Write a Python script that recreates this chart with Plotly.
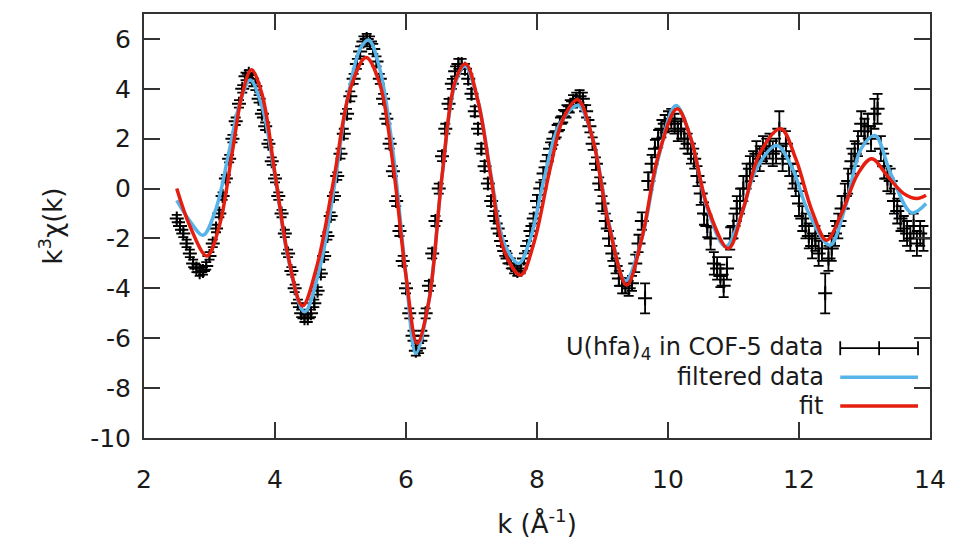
import plotly.graph_objects as go

# ---------------- data ----------------
k_start = 2.5
k_step = 0.05
data_y = [
    -1.2, -1.5, -1.8, -2.2, -2.6, -3.0, -3.2, -3.35, -3.3, -3.1,   # 2.50-2.95
    -2.7, -2.2, -1.6, -1.0, -0.3, 0.4, 1.2, 2.0, 2.7, 3.4,         # 3.00-3.45
    4.0, 4.5, 4.6, 4.4, 4.1, 3.6, 3.0, 2.5, 1.8, 1.1,              # 3.50-3.95
    0.4, -0.3, -1.0, -1.8, -2.6, -3.3, -4.0, -4.6, -5.0, -5.2,     # 4.00-4.45
    -5.2, -5.0, -4.6, -4.1, -3.4, -2.7, -1.9, -1.1, -0.3, 0.5,     # 4.50-4.95
    1.4, 2.2, 3.0, 3.7, 4.4, 5.0, 5.5, 5.9, 6.0, 5.9,              # 5.00-5.45
    5.6, 5.1, 4.4, 3.6, 2.8, 1.8, 0.7, -0.5, -1.7, -2.9,           # 5.50-5.95
    -4.0, -5.0, -5.9, -6.5, -6.4, -5.9, -5.0, -3.9, -2.6, -1.3,    # 6.00-6.45
    0.0, 1.3, 2.4, 3.4, 4.2, 4.7, 5.0, 5.0, 4.8, 4.4,              # 6.50-6.95
    3.8, 3.1, 2.4, 1.6, 0.9, 0.2, -0.5, -1.1, -1.6, -2.1,          # 7.00-7.45
    -2.5, -2.8, -3.0, -3.2, -3.3, -3.2, -2.8, -2.3, -1.7, -1.2,    # 7.50-7.95
    -0.5, 0.0, 0.6, 1.1, 1.6, 2.0, 2.3, 2.6, 2.9, 3.1,             # 8.00-8.45
    3.3, 3.5, 3.6, 3.7, 3.6, 3.1, 2.5, 1.8, 1.0, 0.2,              # 8.50-8.95
    -0.6, -1.3, -2.0, -2.6, -3.1, -3.6, -3.9, -3.9, -4.0, -3.8,    # 9.00-9.45
    -3.0, -2.2, -1.3, -4.4, 0.3, 1.0, 1.6, 2.0, 2.4, 2.6,          # 9.50-9.95
    2.7, 2.8, 2.6, 2.3, 2.4, 2.0, 1.8, 1.4, 1.2, 0.5,              # 10.00-10.45
    -0.2, -1.0, -1.5, -2.0, -3.0, -3.2, -3.5, -3.9, -3.2, -2.0,    # 10.50-10.95
    -1.5, -0.8, -0.5, 0.0, 0.5, 0.8, 1.0, 1.4, 1.2, 1.6,           # 11.00-11.45
    1.5, 1.7, 1.4, 1.5, 2.4, 1.2, 1.8, 1.0, 0.5, 0.2,              # 11.50-11.95
    -0.6, -1.2, -1.5, -1.9, -2.3, -2.0, -2.6, -2.4, -4.2, -2.8,    # 12.00-12.45
    -2.4, -1.8, -1.5, -0.8, -0.3, 0.3, 1.1, 1.4, 1.8, 2.6,         # 12.50-12.95
    2.3, 2.5, 2.0, 3.0, 3.2, 1.6, 0.9, 0.4, 0.3, -0.5,             # 13.00-13.45
    -0.9, -1.2, -1.6, -1.8, -2.0, -1.5, -2.2, -1.8, -2.0,          # 13.50-13.90
]
data_err = [
    0.15, 0.15, 0.15, 0.15, 0.15, 0.15, 0.15, 0.15, 0.15, 0.15,
    0.15, 0.15, 0.15, 0.15, 0.15, 0.15, 0.15, 0.15, 0.15, 0.15,
    0.15, 0.15, 0.15, 0.15, 0.15, 0.15, 0.15, 0.15, 0.15, 0.15,
    0.15, 0.15, 0.15, 0.15, 0.15, 0.15, 0.15, 0.15, 0.15, 0.15,
    0.15, 0.15, 0.15, 0.15, 0.15, 0.15, 0.15, 0.15, 0.15, 0.15,
    0.2, 0.2, 0.2, 0.2, 0.2, 0.2, 0.2, 0.2, 0.2, 0.2,
    0.2, 0.2, 0.2, 0.2, 0.2, 0.2, 0.2, 0.2, 0.2, 0.2,
    0.2, 0.2, 0.2, 0.2, 0.2, 0.2, 0.2, 0.2, 0.2, 0.2,
    0.2, 0.2, 0.2, 0.2, 0.2, 0.2, 0.2, 0.2, 0.2, 0.2,
    0.2, 0.2, 0.2, 0.2, 0.2, 0.2, 0.2, 0.2, 0.2, 0.2,
    0.2, 0.2, 0.2, 0.2, 0.2, 0.2, 0.2, 0.2, 0.2, 0.2,
    0.25, 0.25, 0.25, 0.25, 0.25, 0.25, 0.25, 0.25, 0.25, 0.25,
    0.25, 0.25, 0.25, 0.25, 0.25, 0.25, 0.25, 0.25, 0.25, 0.25,
    0.3, 0.3, 0.3, 0.3, 0.3, 0.3, 0.3, 0.3, 0.3, 0.3,
    0.35, 0.35, 0.35, 0.6, 0.35, 0.35, 0.35, 0.35, 0.35, 0.35,
    0.4, 0.4, 0.4, 0.4, 0.4, 0.4, 0.4, 0.4, 0.4, 0.4,
    0.45, 0.45, 0.45, 0.45, 0.45, 0.45, 0.45, 0.45, 0.45, 0.45,
    0.5, 0.5, 0.5, 0.5, 0.5, 0.5, 0.5, 0.5, 0.5, 0.5,
    0.5, 0.5, 0.5, 0.5, 0.7, 0.5, 0.5, 0.5, 0.5, 0.5,
    0.5, 0.5, 0.5, 0.5, 0.5, 0.5, 0.5, 0.5, 0.8, 0.5,
    0.5, 0.5, 0.5, 0.5, 0.5, 0.5, 0.5, 0.5, 0.5, 0.5,
    0.5, 0.5, 0.5, 0.6, 0.6, 0.5, 0.5, 0.5, 0.5, 0.5,
    0.5, 0.5, 0.5, 0.5, 0.5, 0.5, 0.5, 0.5, 0.5,
]
data_k = [round(k_start + i * k_step, 2) for i in range(len(data_y))]

filt_k = [2.5, 2.7, 2.9, 3.1, 3.3, 3.45, 3.62, 3.8, 4.0, 4.2, 4.45, 4.7, 4.9, 5.1,
          5.3, 5.43, 5.6, 5.8, 6.0, 6.15, 6.35, 6.55, 6.75, 6.9, 7.1, 7.3, 7.5,
          7.72, 7.9, 8.1, 8.35, 8.63, 8.85, 9.1, 9.35, 9.6, 9.85, 10.12, 10.35,
          10.6, 10.88, 11.1, 11.35, 11.66, 11.9, 12.15, 12.47, 12.7, 12.95,
          13.16, 13.4, 13.72, 13.94]
filt_y = [-0.47, -1.3, -1.87, -0.8, 1.5, 3.3, 4.35, 3.3, 0.5, -2.8, -4.94, -3.0,
          0.0, 3.5, 5.6, 5.96, 4.8, 1.5, -3.5, -6.6, -4.5, 0.5, 4.2, 4.9, 3.5, 0.5,
          -2.2, -3.0, -2.0, 0.3, 2.6, 3.33, 2.0, -1.4, -3.7, -2.0, 1.2, 3.33, 2.0,
          -0.8, -2.33, -1.2, 0.8, 1.73, 0.8, -1.0, -2.27, -0.8, 1.6, 2.13, 0.6,
          -0.97, -0.6]

fit_k = [2.5, 2.7, 2.96, 3.15, 3.35, 3.5, 3.64, 3.8, 4.0, 4.2, 4.42, 4.65, 4.9,
         5.15, 5.39, 5.6, 5.8, 6.0, 6.17, 6.35, 6.55, 6.75, 6.91, 7.1, 7.3, 7.5,
         7.75, 7.95, 8.2, 8.4, 8.62, 8.85, 9.1, 9.37, 9.6, 9.85, 10.14, 10.35,
         10.6, 10.92, 11.15, 11.4, 11.72, 11.95, 12.2, 12.42, 12.65, 12.9, 13.11,
         13.35, 13.6, 13.8, 13.94]
fit_y = [0.0, -1.5, -2.7, -1.5, 1.5, 3.8, 4.76, 3.8, 0.6, -2.7, -4.7, -3.0, 0.4,
         4.0, 5.26, 4.2, 1.0, -3.5, -6.2, -4.5, 0.5, 4.3, 5.0, 3.5, 0.4, -2.5,
         -3.47, -2.2, 0.8, 2.8, 3.56, 2.0, -1.5, -3.87, -2.0, 1.3, 3.2, 2.0, -0.7,
         -2.4, -0.8, 1.4, 2.4, 1.2, -0.9, -2.07, -1.0, 0.6, 1.2, 0.5, -0.2, -0.4,
         -0.27]

legend_labels = ["U(hfa)<sub>4</sub> in COF-5 data", "filtered data", "fit"]
x_ticks = [2, 4, 6, 8, 10, 12, 14]
y_ticks = [-10, -8, -6, -4, -2, 0, 2, 4, 6]

BLUE = "#56b4e9"
RED = "#e51e10"
FONT = "DejaVu Sans"
TXT = "#1a1a1a"

fig = go.Figure()
fig.add_trace(go.Scatter(
    x=data_k, y=data_y, mode="markers",
    marker=dict(symbol="cross-thin", size=10, color="black",
                line=dict(color="black", width=2)),
    error_y=dict(type="data", array=data_err, visible=True,
                 color="black", thickness=1.8, width=5),
    showlegend=False, hoverinfo="skip"))
fig.add_trace(go.Scatter(
    x=filt_k, y=filt_y, mode="lines", line=dict(color=BLUE, width=3.5, shape="spline", smoothing=1.0),
    showlegend=False))
fig.add_trace(go.Scatter(
    x=fit_k, y=fit_y, mode="lines", line=dict(color=RED, width=3.5, shape="spline", smoothing=1.0),
    showlegend=False))

# plot area geometry (px)
L, R, T, B = 144, 932, 13, 438
W, H = R - L, B - T

def px(x):
    return (x - L) / W

def py(y):
    return (B - y) / H

shapes = []
annotations = []
rows_y = [348, 377, 406]
for lab, ry in zip(legend_labels, rows_y):
    annotations.append(dict(xref="paper", yref="paper", x=px(828), y=py(ry),
                            text=lab, showarrow=False, xanchor="right", yanchor="middle",
                            font=dict(family=FONT, size=24, color=TXT)))
# legend samples
s0, s1 = px(842), px(920)
shapes.append(dict(type="line", xref="paper", yref="paper", x0=s0, x1=s1, y0=py(348), y1=py(348),
                   line=dict(color="black", width=1.8)))
for sx in (842, 881, 920):
    shapes.append(dict(type="line", xref="paper", yref="paper", x0=px(sx), x1=px(sx),
                       y0=py(341), y1=py(355), line=dict(color="black", width=1.8)))
shapes.append(dict(type="line", xref="paper", yref="paper", x0=s0, x1=s1, y0=py(377), y1=py(377),
                   line=dict(color=BLUE, width=3.5)))
shapes.append(dict(type="line", xref="paper", yref="paper", x0=s0, x1=s1, y0=py(406), y1=py(406),
                   line=dict(color=RED, width=3.5)))

axis_common = dict(showgrid=False, zeroline=False, showline=True, linecolor="#333",
                   linewidth=2, mirror="ticks", ticks="inside", ticklen=16, tickwidth=1.5,
                   tickcolor="#333", tickfont=dict(family=FONT, size=25, color=TXT))

fig.update_layout(
    width=958, height=550, paper_bgcolor="white", plot_bgcolor="white",
    margin=dict(l=L, r=958 - R, t=T, b=550 - B),
    xaxis=dict(range=[2, 14], tickvals=x_ticks, ticktext=[str(v) for v in x_ticks],
               ticklabelstandoff=18,
               title=dict(text="k (Å<sup>-1</sup>)", font=dict(family=FONT, size=26, color=TXT), standoff=22),
               **axis_common),
    yaxis=dict(range=[-10, 7], tickvals=y_ticks, ticktext=[str(v) for v in y_ticks],
               ticklabelstandoff=6,
               title=dict(text="k<sup>3</sup>χ(k)", font=dict(family=FONT, size=26, color=TXT), standoff=20),
               **axis_common),
    shapes=shapes, annotations=annotations, showlegend=False,
)

fig.write_html("out.html")
